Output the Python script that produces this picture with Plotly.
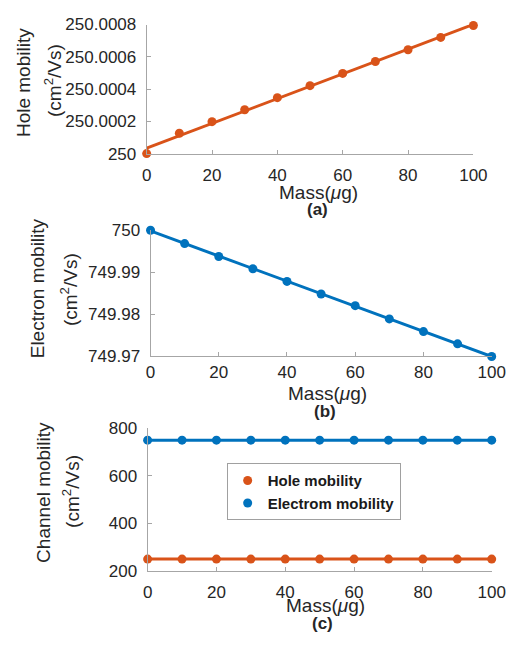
import numpy as np
import plotly.graph_objects as go

# ---- data ----
mass = [0, 10, 20, 30, 40, 50, 60, 70, 80, 90, 100]
hole_mob = [250.0, 250.000126, 250.000198, 250.000272, 250.000347, 250.000421,
            250.000497, 250.000571, 250.000644, 250.000720, 250.000794]
elec_mob = [750.0, 749.99684, 749.99377, 749.99085, 749.98785, 749.98485,
            749.98208, 749.97893, 749.97592, 749.97300, 749.97000]
hole_c = [250] * 11
elec_c = [750] * 11

x_ticks = [0, 20, 40, 60, 80, 100]
a_yticks = [250.0, 250.0002, 250.0004, 250.0006, 250.0008]
a_ylabels = ["250", "250.0002", "250.0004", "250.0006", "250.0008"]
b_yticks = [749.97, 749.98, 749.99, 750.0]
b_ylabels = ["749.97", "749.98", "749.99", "750"]
c_yticks = [200, 400, 600, 800]

ORANGE = "#D95319"
BLUE = "#0072BD"
TXT = "#262626"
AX = "#a6a6a6"
FONT = "Liberation Sans, Arial, sans-serif"
W, H = 524, 646

def px(x):
    return x / W

def py(y):
    return 1 - y / H

# linear fits for the lines
ma = np.array(mass, dtype=float)
pa = np.polyfit(ma, np.array(hole_mob) - 250.0, 1)
hole_fit = list(250.0 + np.polyval(pa, ma))
pb = np.polyfit(ma, np.array(elec_mob) - 750.0, 1)
elec_fit = list(750.0 + np.polyval(pb, ma))

fig = go.Figure()

# Panel a
fig.add_trace(go.Scatter(x=mass, y=hole_fit, mode="lines", line=dict(color=ORANGE, width=3),
                         xaxis="x", yaxis="y", showlegend=False, cliponaxis=False))
fig.add_trace(go.Scatter(x=mass, y=hole_mob, mode="markers", marker=dict(color=ORANGE, size=9),
                         xaxis="x", yaxis="y", showlegend=False, cliponaxis=False))
# Panel b
fig.add_trace(go.Scatter(x=mass, y=elec_fit, mode="lines", line=dict(color=BLUE, width=3),
                         xaxis="x2", yaxis="y2", showlegend=False, cliponaxis=False))
fig.add_trace(go.Scatter(x=mass, y=elec_mob, mode="markers", marker=dict(color=BLUE, size=9),
                         xaxis="x2", yaxis="y2", showlegend=False, cliponaxis=False))
# Panel c
fig.add_trace(go.Scatter(x=mass, y=hole_c, mode="lines", line=dict(color=ORANGE, width=3),
                         xaxis="x3", yaxis="y3", showlegend=False, cliponaxis=False))
fig.add_trace(go.Scatter(x=mass, y=elec_c, mode="lines", line=dict(color=BLUE, width=3),
                         xaxis="x3", yaxis="y3", showlegend=False, cliponaxis=False))
fig.add_trace(go.Scatter(x=mass, y=hole_c, mode="markers", marker=dict(color=ORANGE, size=9),
                         xaxis="x3", yaxis="y3", name="Hole mobility", cliponaxis=False))
fig.add_trace(go.Scatter(x=mass, y=elec_c, mode="markers", marker=dict(color=BLUE, size=9),
                         xaxis="x3", yaxis="y3", name="Electrom mobility", cliponaxis=False))

tickfont = dict(family=FONT, size=17, color=TXT)

def xax(dom, anchor, standoff=6):
    return dict(domain=dom, anchor=anchor, range=[0, 100], tickvals=x_ticks,
                ticks="inside", ticklen=4, tickcolor=AX, showline=True, linecolor=AX,
                linewidth=1, showgrid=False, zeroline=False, tickfont=tickfont,
                ticklabelstandoff=standoff)

def yax(dom, anchor, rng, tv, tt):
    return dict(domain=dom, anchor=anchor, range=rng, tickvals=tv, ticktext=tt,
                ticks="inside", ticklen=4, tickcolor=AX, showline=True, linecolor=AX,
                linewidth=1, showgrid=False, zeroline=False, tickfont=tickfont,
                ticklabelstandoff=6)

layout = dict(
    width=W, height=H, margin=dict(l=0, r=0, t=0, b=0),
    paper_bgcolor="white", plot_bgcolor="white",
    font=dict(family=FONT, color=TXT),
    xaxis=xax([px(147), px(486)], "y"),
    yaxis=yax([py(149), py(16)], "x", [250.0, 250.0008], a_yticks, a_ylabels),
    xaxis2=xax([px(151), px(505)], "y2", standoff=0),
    yaxis2=yax([py(358), py(228)], "x2", [749.97, 750.0], b_yticks, b_ylabels),
    xaxis3=xax([px(148), px(505)], "y3"),
    yaxis3=yax([py(579), py(432)], "x3", [200, 800], c_yticks, [str(v) for v in c_yticks]),
    legend=dict(x=px(230), y=py(468), xanchor="left", yanchor="top",
                bordercolor="#a0a0a0", borderwidth=1, bgcolor="white",
                font=dict(family=FONT, size=15, color="#1a1a1a", weight="bold"),
                itemwidth=30, tracegroupgap=0),
)
fig.update_layout(**layout)

ann = []
def text(x, y, s, size=19, angle=0, bold=False):
    ann.append(dict(x=px(x), y=py(y), xref="paper", yref="paper", text=s,
                    showarrow=False, textangle=angle, xanchor="center", yanchor="middle",
                    font=dict(family=FONT, size=size, color=TXT,
                              weight="bold" if bold else "normal")))

unit = "(cm<sup>2</sup>/Vs)"
mass_lbl = "Mass(<i>\u03bc</i>g)"
# panel a
text(19, 76, "Hole mobility", angle=-90)
text(50, 74, unit, angle=-90)
text(325, 189, mass_lbl)
text(324, 207, "(a)", size=17, bold=True)
# panel b
text(34, 288, "Electron mobility", angle=-90)
text(66, 289, unit, angle=-90)
text(335, 396, mass_lbl)
text(332, 415, "(b)", size=17, bold=True)
# panel c
text(40, 498, "Channel mobility", angle=-90)
text(69, 497, unit, angle=-90)
text(333, 615, mass_lbl)
text(329, 633, "(c)", size=17, bold=True)

fig.update_layout(annotations=ann)
fig.write_html("out.html")
